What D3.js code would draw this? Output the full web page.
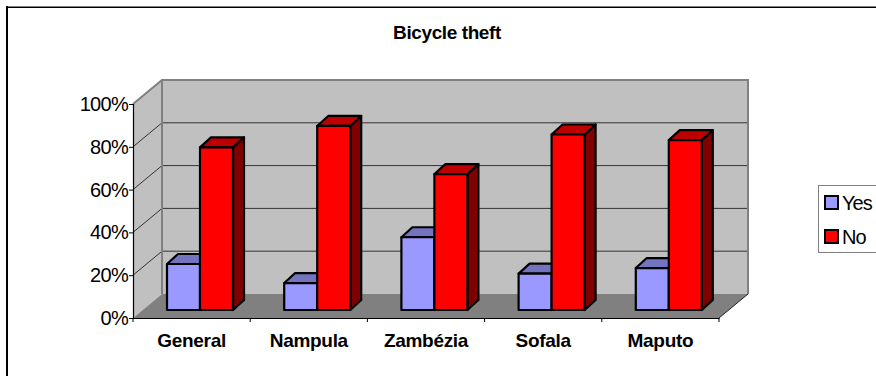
<!DOCTYPE html>
<html>
<head>
<meta charset="utf-8">
<script src="https://cdn.jsdelivr.net/npm/d3@7"></script>
<style>
html, body { margin: 0; padding: 0; background: #fff; }
svg { display: block; }
text { font-family: "Liberation Sans", Arial, sans-serif; fill: #000; }
</style>
</head>
<body>
<div id="chart"></div>
<script>
var categories = ["General", "Nampula", "Zambézia", "Sofala", "Maputo"];
var seriesNames = ["Yes", "No"];
var yesValues = [21.5, 12.6, 34, 17, 19.6];
var noValues = [76, 86, 63.5, 82, 79.4];
var yTicks = [0, 20, 40, 60, 80, 100];

var width = 876, height = 376;

var svg = d3.select("#chart").append("svg")
    .attr("width", width)
    .attr("height", height);

// outer chart frame, only top and left are inside the crop
svg.append("line").attr("x1", 6).attr("x2", width).attr("y1", 6.5).attr("y2", 6.5)
    .attr("stroke", "#808080").attr("stroke-width", 1);
svg.append("line").attr("x1", 6).attr("x2", width).attr("y1", 7.5).attr("y2", 7.5)
    .attr("stroke", "#000").attr("stroke-width", 1);
svg.append("line").attr("x1", 7).attr("x2", 7).attr("y1", 6).attr("y2", height)
    .attr("stroke", "#000").attr("stroke-width", 2);

svg.append("text")
    .attr("x", 447).attr("y", 39)
    .attr("text-anchor", "middle")
    .style("font-size", "19px")
    .style("font-weight", "bold")
    .style("letter-spacing", "-0.4px")
    .text("Bicycle theft");

// front plane scales
var x = d3.scaleBand().domain(categories).range([133, 719]);
var y = d3.scaleLinear().domain([0, 100]).range([318, 104]);

// depth of walls and of the bars
var wallDx = 29, wallDy = -24;
var barDx = 11, barDy = -10;
var barShiftY = -8; // bars stand in the middle of the floor

var line = d3.line();

// back wall
svg.append("path")
    .attr("d", line([[133 + wallDx, y(100) + wallDy], [719 + wallDx, y(100) + wallDy], [719 + wallDx, y(0) + wallDy], [133 + wallDx, y(0) + wallDy]]) + "Z")
    .attr("fill", "#c0c0c0");
// side wall
svg.append("path")
    .attr("d", line([[133, y(100)], [133 + wallDx, y(100) + wallDy], [133 + wallDx, y(0) + wallDy], [133, y(0)]]) + "Z")
    .attr("fill", "#c0c0c0");
// floor
svg.append("path")
    .attr("d", line([[133, y(0)], [133 + wallDx, y(0) + wallDy], [719 + wallDx, y(0) + wallDy], [719, y(0)]]) + "Z")
    .attr("fill", "#808080");

// gridlines
yTicks.slice(1, -1).forEach(function (t) {
    svg.append("path")
        .attr("d", line([[133, y(t)], [133 + wallDx, y(t) + wallDy], [719 + wallDx, y(t) + wallDy]]))
        .attr("fill", "none")
        .attr("stroke", "#333")
        .attr("stroke-width", 1);
});

// wall edges
svg.append("path")
    .attr("d", line([[133, y(100)], [133 + wallDx, y(100) + wallDy], [719 + wallDx, y(100) + wallDy], [719 + wallDx, y(0) + wallDy]]))
    .attr("fill", "none").attr("stroke", "#808080").attr("stroke-width", 2);
svg.append("line")
    .attr("x1", 133 + wallDx).attr("x2", 133 + wallDx)
    .attr("y1", y(100) + wallDy).attr("y2", y(0) + wallDy)
    .attr("stroke", "#808080").attr("stroke-width", 2);
svg.append("line")
    .attr("x1", 719 + wallDx).attr("x2", 719)
    .attr("y1", y(0) + wallDy).attr("y2", y(0))
    .attr("stroke", "#222").attr("stroke-width", 1);

// axes
var axisLeft = d3.axisLeft(y)
    .tickValues(yTicks)
    .tickFormat(function (d) { return d + "%"; })
    .tickSize(4)
    .tickPadding(1);
var gy = svg.append("g").attr("transform", "translate(133,0)").call(axisLeft);
gy.selectAll("text").style("font-size", "20px").style("letter-spacing", "-0.7px");

var axisBottom = d3.axisBottom(x).tickSize(0).tickPadding(15.5);
var gx = svg.append("g").attr("transform", "translate(0,318)").call(axisBottom);
gx.selectAll("text").style("font-size", "19px").style("font-weight", "bold").style("letter-spacing", "-0.3px");
gx.selectAll(".tick line").remove();
d3.range(0, categories.length + 1).forEach(function (i) {
    svg.append("line")
        .attr("x1", 133 + i * x.bandwidth()).attr("x2", 133 + i * x.bandwidth())
        .attr("y1", 318).attr("y2", 322)
        .attr("stroke", "#000");
});
svg.selectAll(".domain").attr("stroke", "#000").attr("stroke-width", 1.2);

// bars
var inner = d3.scaleBand().domain(seriesNames).range([34, 100]);
var colors = {
    Yes: { front: "#9999ff", top: "#7373bf", side: "#4c4c80" },
    No: { front: "#ff0000", top: "#bf0000", side: "#800000" }
};
var rows = categories.map(function (c, i) {
    return { category: c, Yes: yesValues[i], No: noValues[i] };
});

var groups = svg.selectAll(".cat").data(rows).enter().append("g").attr("class", "cat");

seriesNames.forEach(function (name) {
    var bars = groups.append("g").attr("class", "bar-" + name);
    function x0(d) { return x(d.category) + inner(name); }
    function x1(d) { return x0(d) + inner.bandwidth(); }
    function yb() { return y(0) + barShiftY; }
    function yt(d) { return y(d[name]) + barShiftY; }

    bars.append("path")
        .attr("fill", colors[name].side)
        .attr("d", function (d) {
            return line([[x1(d), yt(d)], [x1(d) + barDx, yt(d) + barDy], [x1(d) + barDx, yb() + barDy], [x1(d), yb()]]) + "Z";
        });
    bars.append("path")
        .attr("fill", colors[name].top)
        .attr("d", function (d) {
            return line([[x0(d), yt(d)], [x0(d) + barDx, yt(d) + barDy], [x1(d) + barDx, yt(d) + barDy], [x1(d), yt(d)]]) + "Z";
        });
    bars.append("rect")
        .attr("fill", colors[name].front)
        .attr("x", x0)
        .attr("y", yt)
        .attr("width", inner.bandwidth())
        .attr("height", function (d) { return yb() - yt(d); });
    bars.selectAll("path, rect")
        .attr("stroke", "#000")
        .attr("stroke-width", 2.2)
        .attr("stroke-linejoin", "round");
});

// legend
var legend = svg.append("g");
legend.append("rect")
    .attr("x", 818.5).attr("y", 185.5).attr("width", 70).attr("height", 67)
    .attr("fill", "#fff").attr("stroke", "#808080").attr("stroke-width", 1);
seriesNames.forEach(function (name, i) {
    var ly = 203 + i * 34;
    legend.append("rect")
        .attr("x", 825).attr("y", ly - 7).attr("width", 13).attr("height", 13)
        .attr("fill", colors[name].front)
        .attr("stroke", "#000").attr("stroke-width", 2);
    legend.append("text")
        .attr("x", 842).attr("y", ly + 7)
        .style("font-size", "20px")
        .style("letter-spacing", "-1px")
        .text(name);
});
</script>
</body>
</html>
